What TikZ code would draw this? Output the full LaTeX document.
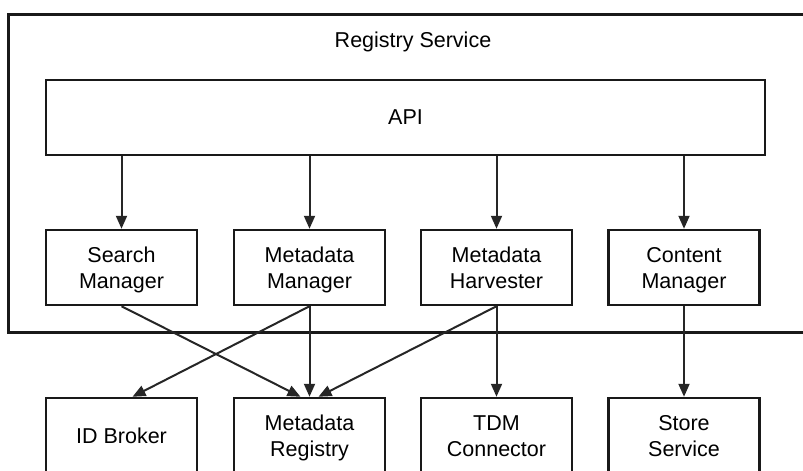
\documentclass[tikz,border=0pt]{standalone}
\usepackage{fontspec}
\setmainfont{Liberation Sans}
\usetikzlibrary{arrows.meta}
\newcommand{\tl}[2]{\rule{0pt}{24pt}#1\\\strut #2}
\begin{document}
\begin{tikzpicture}[x=1pt,y=-1pt,
  box/.style={draw=black!90, line width=2.5pt, minimum width=151pt, minimum height=75pt, inner sep=0pt, align=center, font=\fontsize{21.5}{26}\selectfont},
  arr/.style={draw=black!85, line width=2pt, -{Triangle[length=13pt,width=11pt]}},
  lbl/.style={font=\fontsize{21.5}{26}\selectfont}]
\useasboundingbox (0,0) rectangle (803,471);
\clip (0,0) rectangle (803,471);
\draw[black!90, line width=3pt] (8,14) rectangle (840,332);
\node[lbl] (title) at (413,42) {Registry Service};
\node[box, minimum width=719pt] (api) at (405.5,117.5) {API};
\node[box] (sm) at (121.5,267.5) {\tl{Search}{Manager}};
\node[box] (mm) at (309.5,267.5) {\tl{Metadata}{Manager}};
\node[box] (mh) at (496.5,267.5) {\tl{Metadata}{Harvester}};
\node[box] (cm) at (684,267.5) {\tl{Content}{Manager}};
\node[box] (idb) at (121.5,435.5) {ID Broker};
\node[box] (mr) at (309.5,435.5) {\tl{Metadata}{Registry}};
\node[box] (tdm) at (496.5,435.5) {\tl{TDM}{Connector}};
\node[box] (ss) at (684,435.5) {\tl{Store}{Service}};
\foreach \n in {sm,mm,mh,cm}{
  \draw[arr] (api.south -| \n.north) -- (\n.north);
}
\draw[arr] (sm.south) -- ([xshift=-9pt]mr.north);
\draw[arr] (mm.south) -- ([xshift=11pt]idb.north);
\draw[arr] (mm.south) -- (mr.north);
\draw[arr] (mh.south) -- ([xshift=9pt]mr.north);
\draw[arr] (mh.south) -- (tdm.north);
\draw[arr] (cm.south) -- (ss.north);
\end{tikzpicture}
\end{document}
